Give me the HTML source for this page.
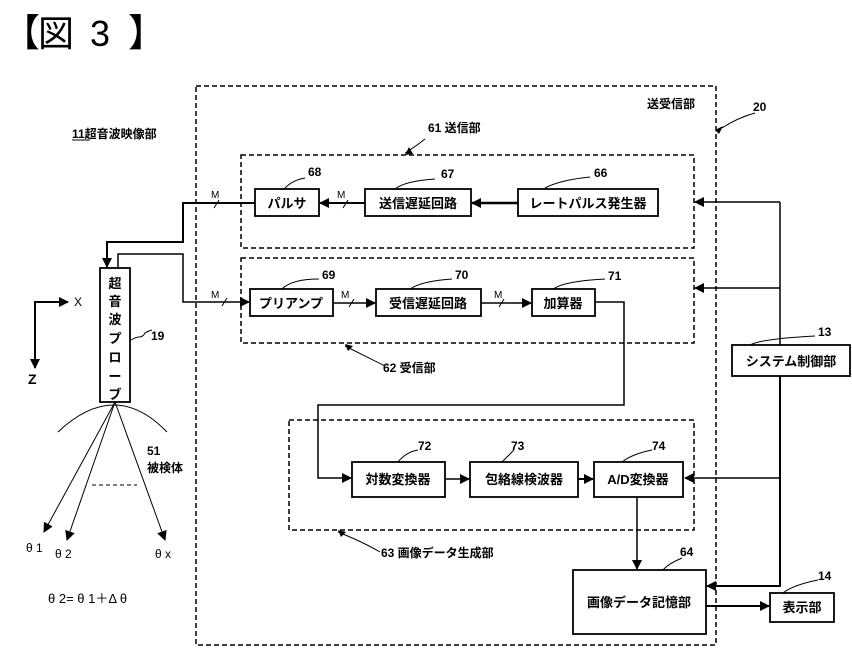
<!DOCTYPE html>
<html><head><meta charset="utf-8"><style>
body{margin:0;background:#fff}
svg{display:block}
text{font-family:"Liberation Sans","Noto Sans CJK JP",sans-serif;fill:#000}
.b text{font-weight:bold}
</style></head><body>
<svg width="852" height="660" viewBox="0 0 852 660" xmlns="http://www.w3.org/2000/svg">
<defs>
<marker id="a" markerWidth="10" markerHeight="10" refX="9" refY="5" orient="auto" markerUnits="userSpaceOnUse"><path d="M0,0 L10,5 L0,10 z" fill="#000"/></marker>
</defs>
<text x="2" y="46" font-size="38">【</text>
<text x="38" y="46" font-size="36">図</text>
<text x="90" y="46" font-size="36">3</text>
<text x="128" y="46" font-size="38">】</text>

<g fill="none" stroke="#000" stroke-width="1.5" stroke-dasharray="5,3">
<rect x="196" y="86" width="520" height="559"/>
<rect x="241" y="155" width="453" height="93"/>
<rect x="241" y="258" width="453" height="85"/>
<rect x="289" y="420" width="405" height="110"/>
</g>

<g font-size="12" class="b">
<text x="647" y="108">送受信部</text>
<text x="753" y="111">20</text>
<text x="428" y="132">61  送信部</text>
<text x="72" y="138">11超音波映像部</text>
<text x="308" y="176">68</text>
<text x="441" y="178">67</text>
<text x="594" y="177">66</text>
<text x="322" y="279">69</text>
<text x="455" y="279">70</text>
<text x="608" y="280">71</text>
<text x="383" y="372">62  受信部</text>
<text x="151" y="340">19</text>
<text x="818" y="336">13</text>
<text x="418" y="450">72</text>
<text x="511" y="450">73</text>
<text x="652" y="450">74</text>
<text x="381" y="557">63  画像データ生成部</text>
<text x="680" y="556">64</text>
<text x="818" y="580">14</text>
<text x="147" y="455">51</text>
<text x="147" y="472">被検体</text>
</g>
<g font-size="12">
<text x="26" y="552">θ 1</text>
<text x="55" y="558">θ 2</text>
<text x="155" y="558">θ x</text>
<text x="48" y="603" font-size="13">θ 2= θ 1＋Δ θ</text>
<text x="74" y="306">X</text>
<text x="28" y="384" font-size="14" font-weight="bold">Z</text>
</g>
<line x1="72" y1="140" x2="90" y2="140" stroke="#000"/>

<g fill="#fff" stroke="#000" stroke-width="1.8">
<rect x="255" y="189" width="64" height="27"/>
<rect x="365" y="189" width="106" height="27"/>
<rect x="518" y="189" width="140" height="27"/>
<rect x="250" y="289" width="83" height="27"/>
<rect x="376" y="289" width="105" height="27"/>
<rect x="532" y="289" width="63" height="27"/>
<rect x="352" y="462" width="93" height="35"/>
<rect x="470" y="462" width="108" height="35"/>
<rect x="594" y="462" width="89" height="35"/>
<rect x="573" y="570" width="133" height="64"/>
<rect x="770" y="593" width="64" height="29"/>
<rect x="732" y="345" width="118" height="31"/>
<rect x="100" y="268" width="30" height="134"/>
</g>
<g font-size="13" text-anchor="middle" class="b">
<text x="287" y="208">パルサ</text>
<text x="418" y="208">送信遅延回路</text>
<text x="588" y="208">レートパルス発生器</text>
<text x="291" y="308">プリアンプ</text>
<text x="428" y="308">受信遅延回路</text>
<text x="563" y="308">加算器</text>
<text x="398" y="484">対数変換器</text>
<text x="524" y="484">包絡線検波器</text>
<text x="638" y="484">A/D変換器</text>
<text x="639" y="607">画像データ記憶部</text>
<text x="802" y="612">表示部</text>
<text x="791" y="366">システム制御部</text>
<text x="115" y="288">超</text>
<text x="115" y="306">音</text>
<text x="115" y="324">波</text>
<text x="115" y="343">プ</text>
<text x="115" y="362">ロ</text>
<text x="115" y="381">ー</text>
<text x="115" y="399">ブ</text>
</g>

<g fill="none" stroke="#000" stroke-width="1.5">
<path d="M255,203 H183 V242 H107 V267" marker-end="url(#a)" stroke-width="2"/>
<path d="M118,268 V254 H183 V302 H249" marker-end="url(#a)"/>
<path d="M365,203 H320" marker-end="url(#a)" stroke-width="2"/>
<path d="M518,203 H472" marker-end="url(#a)" stroke-width="2.5"/>
<path d="M333,303 H375" marker-end="url(#a)"/>
<path d="M481,303 H531" marker-end="url(#a)"/>
<path d="M595,302 H624 V405 H318 V478 H351" marker-end="url(#a)"/>
<path d="M445,479 H469" marker-end="url(#a)"/>
<path d="M578,479 H593" marker-end="url(#a)" stroke-width="2"/>
<path d="M637,497 V569" marker-end="url(#a)"/>
<path d="M706,606 H769" marker-end="url(#a)" stroke-width="2"/>
<path d="M780,202 H695" marker-end="url(#a)"/>
<path d="M780,288 H695" marker-end="url(#a)"/>
<path d="M780,202 V345"/>
<path d="M780,376 V586 H707" marker-end="url(#a)" stroke-width="2"/>
<path d="M780,478 H685" marker-end="url(#a)"/>
<path d="M35,347 V302 H68" marker-end="url(#a)" stroke-width="2"/>
<path d="M35,302 V368" marker-end="url(#a)" stroke-width="2"/>
</g>
<g fill="none" stroke="#000" stroke-width="1">
<path d="M58,432 Q115,378 167,432"/>
<path d="M115,402 L44,532" marker-end="url(#a)"/>
<path d="M115,402 L67,540" marker-end="url(#a)"/>
<path d="M115,402 L165,540" marker-end="url(#a)"/>
<path d="M92,485 H137" stroke-dasharray="4,3"/>
<path d="M214,208 l5,-8 M343,208 l5,-8 M222,306 l5,-8 M349,307 l5,-8 M499,307 l5,-8"/>
<path d="M131,340 q5,-3 8,-3 q4,0 6,-4 q3,-2 7,-3"/>
<path d="M285,188 q8,-8 20,-10 M395,189 q10,-8 40,-10 M545,188 q15,-8 45,-11 M282,289 q10,-10 37,-10 M410,289 q12,-8 42,-10 M553,289 q12,-8 52,-10 M398,462 q8,-10 20,-12 M502,462 q10,-10 12,-12 M622,462 q10,-8 30,-12 M663,570 q5,-6 19,-12 M783,593 q10,-8 35,-13 M750,345 q10,-6 65,-9 M722,128 q15,-10 33,-15 M405,153 q10,-6 20,-14 M345,346 q20,10 40,20 M338,532 q25,10 42,20"/>
</g>
<g font-size="10">
<text x="211" y="198">M</text>
<text x="337" y="198">M</text>
<text x="211" y="298">M</text>
<text x="341" y="298">M</text>
<text x="494" y="298">M</text>
</g>
<g fill="#000">
<path d="M715,130 l8,-4 l-4,8z"/>
<path d="M405,155 l4,-8 l4,7z"/>
<path d="M345,344 l8,2 l-5,5z"/>
<path d="M338,530 l8,2 l-5,5z"/>
</g>
</svg>
</body></html>
